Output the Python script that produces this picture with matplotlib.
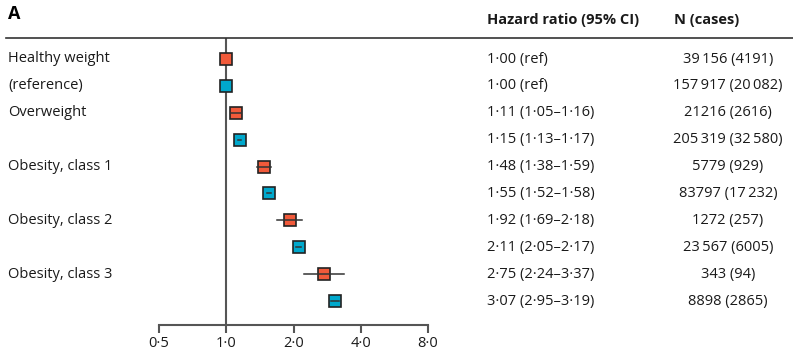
import matplotlib
matplotlib.use("Agg")
import matplotlib.pyplot as plt
import matplotlib.transforms as mtransforms
from matplotlib.lines import Line2D

plt.rcParams["font.family"] = ["Open Sans", "DejaVu Sans"]

row_labels = ["Healthy weight", "(reference)", "Overweight", "", "Obesity, class 1", "",
              "Obesity, class 2", "", "Obesity, class 3", ""]
hr = [1.00, 1.00, 1.11, 1.15, 1.48, 1.55, 1.92, 2.11, 2.75, 3.07]
ci_low = [1.00, 1.00, 1.05, 1.13, 1.38, 1.52, 1.69, 2.05, 2.24, 2.95]
ci_high = [1.00, 1.00, 1.16, 1.17, 1.59, 1.58, 2.18, 2.17, 3.37, 3.19]
hr_text = ["1·00 (ref)", "1·00 (ref)", "1·11 (1·05–1·16)", "1·15 (1·13–1·17)",
           "1·48 (1·38–1·59)", "1·55 (1·52–1·58)", "1·92 (1·69–2·18)",
           "2·11 (2·05–2·17)", "2·75 (2·24–3·37)", "3·07 (2·95–3·19)"]
n_text = ["39\u2009156 (4191)", "157\u2009917 (20\u2009082)", "21216 (2616)",
          "205\u2009319 (32\u2009580)", "5779 (929)", "83797 (17\u2009232)",
          "1272 (257)", "23\u2009567 (6005)", "343 (94)", "8898 (2865)"]
groups = ["a", "b"] * 5
ticks = [0.5, 1.0, 2.0, 4.0, 8.0]
tick_labels = ["0·5", "1·0", "2·0", "4·0", "8·0"]

colors = {"a": "#F15A3A", "b": "#00A8CC"}

W, H = 793, 356
fig = plt.figure(figsize=(W / 100, H / 100), dpi=100)
ax = fig.add_axes([159 / W, 1 - 325 / H, (428 - 159) / W, (325 - 38) / H])

ax.set_xscale("log", base=2)
ax.set_xlim(0.5, 8.0)
step = 26.9
ax.set_ylim((325 - 59) / step, -(59 - 38) / step)

ax.axvline(1.0, color="#555555", lw=1.5, zorder=1)

for i in range(len(hr)):
    ax.plot(hr[i], i, marker="s", markersize=8.2, color=colors[groups[i]],
            markeredgecolor="#222222", markeredgewidth=1.2, zorder=3)
    ax.plot([ci_low[i], ci_high[i]], [i, i], color="#333333", lw=1.1, zorder=4)

for s in ["top", "left", "right"]:
    ax.spines[s].set_visible(False)
ax.spines["bottom"].set_color("#555555")
ax.spines["bottom"].set_linewidth(1.5)
ax.set_yticks([])
ax.set_xticks(ticks)
ax.set_xticklabels(tick_labels, fontsize=10.5, color="#1a1a1a")
ax.xaxis.set_minor_locator(matplotlib.ticker.NullLocator())
ax.tick_params(axis="x", length=6, width=1.5, color="#555555", pad=2)

fs = 10.5
trans = mtransforms.blended_transform_factory(fig.transFigure, ax.transData)
for i in range(len(hr)):
    ax.text(8 / W, i, row_labels[i], transform=trans, fontsize=fs, va="center",
            ha="left", color="#1a1a1a")
    ax.text(487 / W, i, hr_text[i], transform=trans, fontsize=fs, va="center",
            ha="left", color="#1a1a1a")
    ax.text(728 / W, i, n_text[i], transform=trans, fontsize=fs, va="center",
            ha="center", color="#1a1a1a")

fig.text(8 / W, 1 - 14 / H, "A", fontsize=13, fontweight="bold", va="center", ha="left")
fig.text(487 / W, 1 - 20 / H, "Hazard ratio (95% CI)", fontsize=fs, fontweight="bold",
         va="center", ha="left", color="#1a1a1a")
fig.text(674 / W, 1 - 20 / H, "N (cases)", fontsize=fs, fontweight="bold",
         va="center", ha="left", color="#1a1a1a")
fig.add_artist(Line2D([6 / W, 1.0], [1 - 38 / H, 1 - 38 / H], color="#333333", lw=1.2,
                      transform=fig.transFigure))

fig.savefig("out.png", dpi=100)
